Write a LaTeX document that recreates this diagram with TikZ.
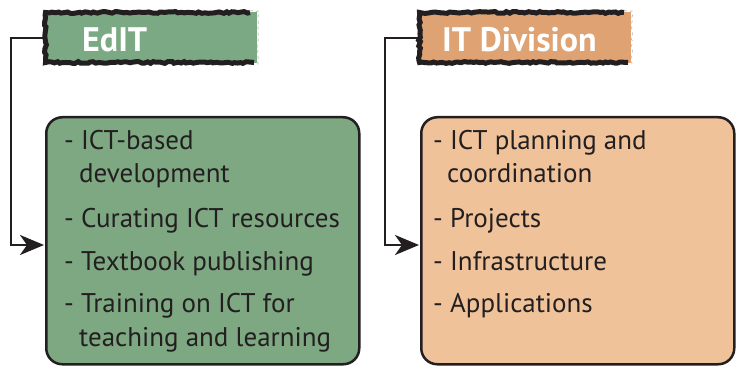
\documentclass[tikz,border=0pt]{standalone}
\usepackage{fontspec}
\setmainfont{PT Sans}
\usetikzlibrary{decorations.pathmorphing,arrows.meta}
\definecolor{ink}{HTML}{231F20}
\definecolor{hgreen}{HTML}{7BA983}
\definecolor{bgreen}{HTML}{7DA882}
\definecolor{horange}{HTML}{DFA272}
\definecolor{borange}{HTML}{EFC29A}
\tikzset{
  itemtext/.style={anchor=base west, inner sep=0pt, text=ink, font=\fontsize{27}{34}\selectfont, align=left},
  headtext/.style={anchor=base west, inner sep=0pt, text=white, font=\fontsize{34}{38}\selectfont\bfseries},
  bigbox/.style={draw=ink, line width=2.5pt, rounded corners=16pt},
  brush/.style={draw=ink, line width=5pt, decorate, decoration={random steps, segment length=3pt, amplitude=0.9pt}},
  faint/.style={draw=gray!60, line width=0.6pt, dashed, decorate, decoration={random steps, segment length=2pt, amplitude=0.5pt}},
  conn/.style={draw=ink, line width=2.6pt, arrows={-Stealth[length=24pt, width=20pt, inset=7pt]}},
}
\begin{document}
\begin{tikzpicture}[x=1pt,y=-1pt]
\useasboundingbox (0,0) rectangle (736,366);
% ---------- EdIT ----------
\fill[hgreen] (46,12) rectangle (257,63);
\draw[brush] (250,12.5) -- (45.5,12.5) -- (45.5,62.5) -- (254,62.5);
\draw[faint] (250,11) -- (258,11) -- (258,64) -- (254,64);
\coordinate (h1) at (44,38);
\node[headtext] (t1) at (82,51.5) {EdIT};
\node[bigbox, fill=bgreen, minimum width=313pt, minimum height=247pt, anchor=north west] (b1) at (45,116) {};
\coordinate (a1) at (44,245);
\draw[conn] (h1) -- (11,38) |- (a1);
\node[itemtext] (i1a) at (64,150) {- ICT-based};
\node[itemtext] (i1b) at (79,183) {development};
\node[itemtext] (i2) at (64,227) {- Curating ICT resources};
\node[itemtext] (i3) at (64,270) {- Textbook publishing};
\node[itemtext] (i4a) at (64,312) {- Training on ICT for};
\node[itemtext] (i4b) at (79,346) {teaching and learning};
% ---------- IT Division ----------
\fill[horange] (420,12) rectangle (631,63);
\draw[brush] (624,12.5) -- (419.5,12.5) -- (419.5,62.5) -- (628,62.5);
\draw[faint] (624,11) -- (632,11) -- (632,64) -- (628,64);
\coordinate (h2) at (418,38);
\node[headtext] (t2) at (442,51.5) {IT Division};
\node[bigbox, fill=borange, minimum width=313pt, minimum height=247pt, anchor=north west] (b2) at (420,116) {};
\coordinate (a2) at (419,245);
\draw[conn] (h2) -- (385,38) |- (a2);
\node[itemtext] (j1a) at (433,150) {- ICT planning and};
\node[itemtext] (j1b) at (447,183) {coordination};
\node[itemtext] (j2) at (433,227) {- Projects};
\node[itemtext] (j3) at (433,270) {- Infrastructure};
\node[itemtext] (j4) at (433,312) {- Applications};
\end{tikzpicture}
\end{document}
